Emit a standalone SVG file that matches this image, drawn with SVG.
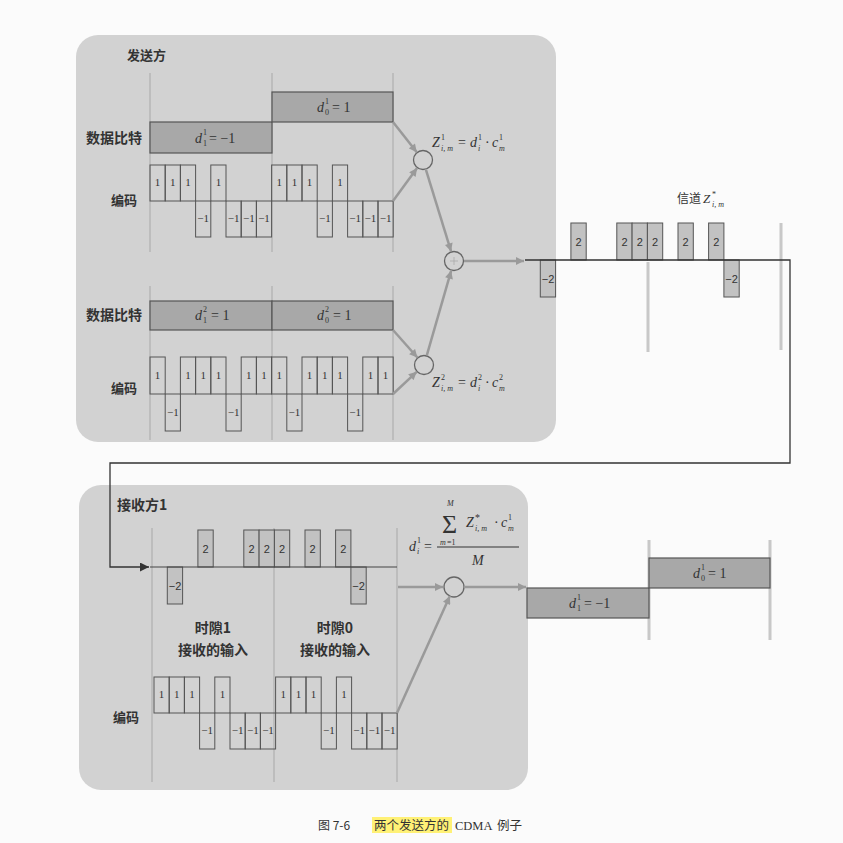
<svg xmlns="http://www.w3.org/2000/svg" width="843" height="843" viewBox="0 0 843 843">
<defs>
<style>
.panel{fill:#d2d2d2}
.slot{stroke:#bdbdbd;stroke-width:2;fill:none}
.slotw{stroke:#c8c8c8;stroke-width:3;fill:none}
.chip{fill:none;stroke:#555;stroke-width:1}
.chipf{fill:#c2c2c2;stroke:#555;stroke-width:1}
.bit{fill:#a8a8a8;stroke:#555;stroke-width:1.2}
.ct{font-family:"Liberation Serif",serif;font-size:11px;fill:#333;text-anchor:middle}
.ct2{font-family:"Liberation Sans",sans-serif;font-size:11px;fill:#333;text-anchor:middle}
.lab{font-family:"Noto Sans CJK SC",sans-serif;font-weight:bold;font-size:14px;fill:#333}
.labc{font-family:"Noto Sans CJK SC",sans-serif;font-weight:bold;font-size:14px;fill:#333;text-anchor:middle}
.m{font-family:"Liberation Serif",serif;font-size:14px;fill:#333}
.mi{font-family:"Liberation Serif",serif;font-style:italic;font-size:14px;fill:#333}
.s{font-family:"Liberation Serif",serif;font-size:8px;fill:#333}
.si{font-family:"Liberation Serif",serif;font-style:italic;font-size:8px;fill:#333}
.ga{stroke:#9a9a9a;stroke-width:2.5;fill:none;marker-end:url(#ag)}
.circ{fill:none;stroke:#666;stroke-width:1.3}
.blk{stroke:#333;stroke-width:1.3;fill:none}
</style>
<marker id="ag" viewBox="0 0 10 10" refX="10" refY="5" markerUnits="userSpaceOnUse" markerWidth="9" markerHeight="8" orient="auto"><path d="M0,0 L10,5 L0,10 z" fill="#9a9a9a"/></marker>
<marker id="ab" viewBox="0 0 10 10" refX="10" refY="5" markerUnits="userSpaceOnUse" markerWidth="11" markerHeight="9" orient="auto"><path d="M0,0 L10,5 L0,10 z" fill="#333"/></marker>
</defs>
<rect width="843" height="843" fill="#fbfbfb"/>

<g id="sender-panel">
<rect class="panel" x="76" y="35" width="480" height="407" rx="22"/>
<text class="lab" x="127" y="60" style="font-size:13px">发送方</text>
<path class="slot" d="M150,73V252M272,73V252M393,73V252M150,286V440M272,286V440M393,286V440"/>
</g>

<g id="user1-bits">
<text class="lab" x="86" y="143">数据比特</text>
<rect class="bit" x="150" y="122" width="122" height="31"/>
<rect class="bit" x="272" y="92" width="121" height="30"/>
<text class="mi" x="195" y="143">d</text><text class="s" x="203" y="135">1</text><text class="s" x="203" y="146">1</text><text class="m" x="209" y="143">= −1</text>
<text class="mi" x="317" y="112">d</text><text class="s" x="325" y="104">1</text><text class="s" x="325" y="115">0</text><text class="m" x="332" y="112">= 1</text>
</g>

<g id="user1-code">
<text class="lab" x="111" y="205" style="font-size:13px">编码</text>
<g class="chip">
<rect x="150" y="165" width="15.2" height="36"/><rect x="165.2" y="165" width="15.2" height="36"/><rect x="180.4" y="165" width="15.2" height="36"/><rect x="195.6" y="201" width="15.2" height="36"/><rect x="210.8" y="165" width="15.2" height="36"/><rect x="226" y="201" width="15.2" height="36"/><rect x="241.2" y="201" width="15.2" height="36"/><rect x="256.4" y="201" width="15.2" height="36"/>
<rect x="271.6" y="165" width="15.2" height="36"/><rect x="286.8" y="165" width="15.2" height="36"/><rect x="302" y="165" width="15.2" height="36"/><rect x="317.2" y="201" width="15.2" height="36"/><rect x="332.4" y="165" width="15.2" height="36"/><rect x="347.6" y="201" width="15.2" height="36"/><rect x="362.8" y="201" width="15.2" height="36"/><rect x="378" y="201" width="15.2" height="36"/>
</g>
<g class="ct">
<text x="157.6" y="186">1</text><text x="172.8" y="186">1</text><text x="188" y="186">1</text><text x="203.2" y="222">−1</text><text x="218.4" y="186">1</text><text x="233.6" y="222">−1</text><text x="248.8" y="222">−1</text><text x="264" y="222">−1</text>
<text x="279.2" y="186">1</text><text x="294.4" y="186">1</text><text x="309.6" y="186">1</text><text x="324.8" y="222">−1</text><text x="340" y="186">1</text><text x="355.2" y="222">−1</text><text x="370.4" y="222">−1</text><text x="385.6" y="222">−1</text>
</g>
</g>

<g id="user2-bits">
<text class="lab" x="86" y="320">数据比特</text>
<rect class="bit" x="150" y="301" width="122" height="29"/>
<rect class="bit" x="272" y="301" width="121" height="29"/>
<text class="mi" x="195" y="320">d</text><text class="s" x="203" y="312">2</text><text class="s" x="203" y="323">1</text><text class="m" x="211" y="320">= 1</text>
<text class="mi" x="317" y="320">d</text><text class="s" x="325" y="312">2</text><text class="s" x="325" y="323">0</text><text class="m" x="333" y="320">= 1</text>
</g>

<g id="user2-code">
<text class="lab" x="111" y="393" style="font-size:13px">编码</text>
<g class="chip">
<rect x="150" y="357" width="15.2" height="37"/><rect x="165.2" y="394" width="15.2" height="37"/><rect x="180.4" y="357" width="15.2" height="37"/><rect x="195.6" y="357" width="15.2" height="37"/><rect x="210.8" y="357" width="15.2" height="37"/><rect x="226" y="394" width="15.2" height="37"/><rect x="241.2" y="357" width="15.2" height="37"/><rect x="256.4" y="357" width="15.2" height="37"/>
<rect x="271.6" y="357" width="15.2" height="37"/><rect x="286.8" y="394" width="15.2" height="37"/><rect x="302" y="357" width="15.2" height="37"/><rect x="317.2" y="357" width="15.2" height="37"/><rect x="332.4" y="357" width="15.2" height="37"/><rect x="347.6" y="394" width="15.2" height="37"/><rect x="362.8" y="357" width="15.2" height="37"/><rect x="378" y="357" width="15.2" height="37"/>
</g>
<g class="ct">
<text x="157.6" y="379">1</text><text x="172.8" y="416">−1</text><text x="188" y="379">1</text><text x="203.2" y="379">1</text><text x="218.4" y="379">1</text><text x="233.6" y="416">−1</text><text x="248.8" y="379">1</text><text x="264" y="379">1</text>
<text x="279.2" y="379">1</text><text x="294.4" y="416">−1</text><text x="309.6" y="379">1</text><text x="324.8" y="379">1</text><text x="340" y="379">1</text><text x="355.2" y="416">−1</text><text x="370.4" y="379">1</text><text x="385.6" y="379">1</text>
</g>
</g>

<g id="mult1">
<circle class="circ" cx="423" cy="160" r="9.5"/>
<text class="mi" x="432" y="147">Z</text><text class="s" x="441" y="140">1</text><text class="si" x="441" y="151">i, m</text>
<text class="m" x="458" y="147">=</text>
<text class="mi" x="470" y="147">d</text><text class="s" x="478" y="140">1</text><text class="si" x="478" y="151">i</text>
<text class="m" x="485" y="147">·</text>
<text class="mi" x="492" y="147">c</text><text class="s" x="499" y="140">1</text><text class="si" x="499" y="151">m</text>
</g>

<g id="mult2">
<circle class="circ" cx="424" cy="365" r="9.5"/>
<text class="mi" x="432" y="387">Z</text><text class="s" x="441" y="380">2</text><text class="si" x="441" y="391">i, m</text>
<text class="m" x="458" y="387">=</text>
<text class="mi" x="470" y="387">d</text><text class="s" x="478" y="380">2</text><text class="si" x="478" y="391">i</text>
<text class="m" x="485" y="387">·</text>
<text class="mi" x="492" y="387">c</text><text class="s" x="499" y="380">2</text><text class="si" x="499" y="391">m</text>
</g>

<g id="sum">
<circle class="circ" cx="454" cy="261" r="9.5"/>
<path d="M450,261H458M454,257V265" stroke="#aaa" stroke-width="0.8"/>
</g>

<g id="channel">
<path class="slotw" d="M648,262V352M781,223V350"/>
<text class="lab" x="677" y="203" style="font-weight:normal;font-size:12px">信道</text>
<text class="mi" x="703" y="203" style="font-size:13px">Z</text><text class="s" x="712" y="197">*</text><text class="si" x="712" y="207">i, m</text>
<g class="chipf">
<rect x="540.3" y="260" width="15.3" height="37"/><rect x="570.9" y="223" width="15.3" height="37"/><rect x="616.8" y="223" width="15.3" height="37"/><rect x="632.1" y="223" width="15.3" height="37"/><rect x="647.4" y="223" width="15.3" height="37"/><rect x="678" y="223" width="15.3" height="37"/><rect x="708.6" y="223" width="15.3" height="37"/><rect x="723.9" y="260" width="15.3" height="37"/>
</g>
<g class="ct2">
<text x="548" y="283">−2</text><text x="578.5" y="246">2</text><text x="624.5" y="246">2</text><text x="639.8" y="246">2</text><text x="655" y="246">2</text><text x="685.6" y="246">2</text><text x="716.2" y="246">2</text><text x="731.5" y="283">−2</text>
</g>
</g>

<g id="receiver-panel">
<rect class="panel" x="79" y="485" width="449" height="305" rx="22"/>
<text class="lab" x="117" y="510">接收方1</text>
<path class="slot" d="M152,528V782M274,528V782M397,528V782"/>
</g>

<g id="received">
<g class="chipf">
<rect x="167.3" y="567" width="15.3" height="37"/><rect x="197.9" y="530" width="15.3" height="37"/><rect x="243.8" y="530" width="15.3" height="37"/><rect x="259.1" y="530" width="15.3" height="37"/><rect x="274.4" y="530" width="15.3" height="37"/><rect x="305" y="530" width="15.3" height="37"/><rect x="335.6" y="530" width="15.3" height="37"/><rect x="350.9" y="567" width="15.3" height="37"/>
</g>
<g class="ct2">
<text x="175" y="590">−2</text><text x="205.5" y="553">2</text><text x="251.5" y="553">2</text><text x="266.8" y="553">2</text><text x="282" y="553">2</text><text x="312.6" y="553">2</text><text x="343.2" y="553">2</text><text x="358.5" y="590">−2</text>
</g>
<path d="M150,567H397" stroke="#444" stroke-width="1.2"/>
<text class="labc" x="213" y="633">时隙1</text>
<text class="labc" x="213" y="655">接收的输入</text>
<text class="labc" x="335" y="633">时隙0</text>
<text class="labc" x="335" y="655">接收的输入</text>
</g>

<g id="receiver-code">
<text class="lab" x="113" y="722" style="font-size:13px">编码</text>
<g class="chip">
<rect x="154" y="677" width="15.2" height="36"/><rect x="169.2" y="677" width="15.2" height="36"/><rect x="184.4" y="677" width="15.2" height="36"/><rect x="199.6" y="713" width="15.2" height="36"/><rect x="214.8" y="677" width="15.2" height="36"/><rect x="230" y="713" width="15.2" height="36"/><rect x="245.2" y="713" width="15.2" height="36"/><rect x="260.4" y="713" width="15.2" height="36"/>
<rect x="275.6" y="677" width="15.2" height="36"/><rect x="290.8" y="677" width="15.2" height="36"/><rect x="306" y="677" width="15.2" height="36"/><rect x="321.2" y="713" width="15.2" height="36"/><rect x="336.4" y="677" width="15.2" height="36"/><rect x="351.6" y="713" width="15.2" height="36"/><rect x="366.8" y="713" width="15.2" height="36"/><rect x="382" y="713" width="15.2" height="36"/>
</g>
<g class="ct">
<text x="161.6" y="698">1</text><text x="176.8" y="698">1</text><text x="192" y="698">1</text><text x="207.2" y="734">−1</text><text x="222.4" y="698">1</text><text x="237.6" y="734">−1</text><text x="252.8" y="734">−1</text><text x="268" y="734">−1</text>
<text x="283.2" y="698">1</text><text x="298.4" y="698">1</text><text x="313.6" y="698">1</text><text x="328.8" y="734">−1</text><text x="344" y="698">1</text><text x="359.2" y="734">−1</text><text x="374.4" y="734">−1</text><text x="389.6" y="734">−1</text>
</g>
</g>

<g id="decode">
<circle class="circ" cx="454" cy="587" r="10"/>
<text class="mi" x="409" y="551">d</text><text class="s" x="417" y="543">1</text><text class="si" x="417" y="554">i</text>
<text class="m" x="424" y="551">=</text>
<text class="m" x="442" y="533" style="font-size:26px">Σ</text>
<text class="si" x="447" y="506" style="font-size:8px">M</text>
<text class="si" x="440" y="545" style="font-size:8px">m</text><text class="s" x="447" y="545" style="font-size:8px">=1</text>
<text class="mi" x="466" y="527">Z</text><text class="s" x="475" y="521" style="font-size:10px">*</text><text class="si" x="475" y="531">i, m</text>
<text class="m" x="494" y="527">·</text>
<text class="mi" x="501" y="527">c</text><text class="s" x="508" y="520">1</text><text class="si" x="508" y="531">m</text>
<path d="M437,547H519" stroke="#333" stroke-width="1"/>
<text class="mi" x="472" y="565">M</text>
</g>

<g id="output">
<path class="slotw" d="M649,540V640M770,540V640"/>
<rect class="bit" x="527" y="588" width="122" height="30"/>
<rect class="bit" x="649" y="558" width="121" height="30"/>
<text class="mi" x="569" y="608">d</text><text class="s" x="577" y="600">1</text><text class="s" x="577" y="611">1</text><text class="m" x="584" y="608">= −1</text>
<text class="mi" x="693" y="578">d</text><text class="s" x="701" y="570">1</text><text class="s" x="701" y="581">0</text><text class="m" x="708" y="578">= 1</text>
</g>

<g id="connectors">
<path class="ga" d="M393,122L416.8,152.2"/>
<path class="ga" d="M393,201L417.1,168.1"/>
<path class="ga" d="M425.9,169.6L451.1,251.4"/>
<path class="ga" d="M393,330L417.4,357.5"/>
<path class="ga" d="M393,394L416.7,371.8"/>
<path class="ga" d="M426.8,355.4L451.2,270.6"/>
<path class="ga" d="M464,261H524"/>
<path class="blk" d="M525,260H790V463H110V567H149" marker-end="url(#ab)"/>
<path class="ga" d="M398,587H443"/>
<path class="ga" d="M397,713L449.9,596.1"/>
<path class="ga" d="M464,587H526"/>
</g>

<g id="caption">
<rect x="372" y="817" width="80" height="16" fill="#fff176"/>
<text x="318" y="830" style="font-family:'Noto Sans CJK SC',sans-serif;font-size:12px;fill:#333">图 7-6</text>
<text x="374" y="830" style="font-family:'Noto Sans CJK SC',sans-serif;font-size:12.5px;fill:#333">两个发送方的</text>
<text x="455" y="830" style="font-family:'Liberation Serif',serif;font-size:12.5px;fill:#333">CDMA</text>
<text x="497" y="830" style="font-family:'Noto Sans CJK SC',sans-serif;font-size:12.5px;fill:#333">例子</text>
</g>
</svg>
